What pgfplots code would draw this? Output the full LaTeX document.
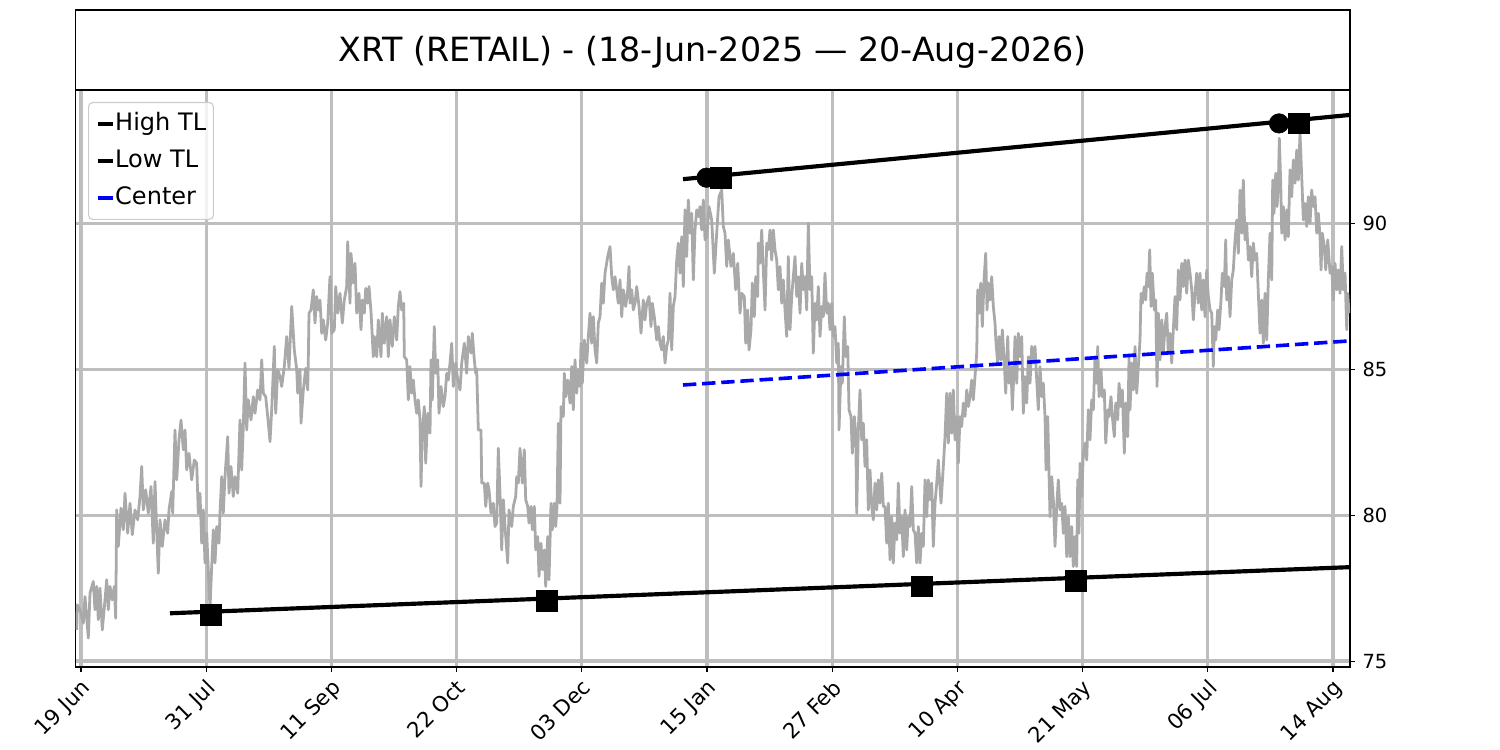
\documentclass[border=0pt]{standalone}
\usepackage{fontspec}
\setmainfont{DejaVu Sans}
\usepackage{pgfplots}
\pgfplotsset{compat=1.18}
\definecolor{pricec}{RGB}{169,169,169}
\definecolor{gridc}{RGB}{190,190,190}
\definecolor{legedge}{RGB}{204,204,204}
\begin{document}
\begin{tikzpicture}[x=1bp,y=1bp]
\useasboundingbox (0,0) rectangle (1080,540);
% title box
\begin{axis}[at={(54.36bp,475.2bp)}, anchor=south west, scale only axis,
  width=917.64bp, height=57.6bp, xmin=0, xmax=1, ymin=0, ymax=1,
  xtick=\empty, ytick=\empty, axis line style={line width=0.8bp}]
\node at (axis cs:0.5,0.47) {\fontsize{24bp}{28bp}\selectfont XRT (RETAIL) - (18-Jun-2025 — 20-Aug-2026)};
\end{axis}
% main axis
\begin{axis}[at={(54.36bp,59.76bp)}, anchor=south west, scale only axis,
  width=917.64bp, height=415.44bp,
  xmin=-5.5, xmax=1269, ymin=74.80, ymax=94.565,
  xtick={0,125.2,250.4,375.6,500.8,626,751.2,876.4,1001.6,1126.8,1252},
  xticklabels={19 Jun,31 Jul,11 Sep,22 Oct,03 Dec,15 Jan,27 Feb,10 Apr,21 May,06 Jul,14 Aug},
  ytick={75,80,85,90},
  xtick pos=bottom, ytick pos=right, yticklabel pos=right,
  tick align=outside, major tick length=3.5bp,
  tick style={black, line width=0.8bp},
  grid=major, major grid style={gridc, line width=2.4bp},
  axis line style={line width=0.8bp},
  yticklabel style={font=\fontsize{14bp}{16bp}\selectfont, xshift=2bp},
  xticklabel style={font=\fontsize{15.3bp}{18bp}\selectfont, rotate=45, anchor=north east, inner sep=2.5bp, xshift=-1bp},
  /pgf/number format/assume math mode=true,
  legend style={at={(0,1)}, anchor=north west, xshift=9bp, yshift=-8.6bp,
    draw=legedge, line width=0.8bp, rounded corners=3bp,
    fill=white, fill opacity=0.8, text opacity=1,
    font=\fontsize{17.3bp}{20bp}\selectfont,
    inner xsep=5bp, inner ysep=7.5bp, row sep=10.3bp,
    nodes={inner xsep=0.2bp, inner ysep=0bp, text height=12.6bp, text depth=3.6bp}},
  legend cell align=left,
  legend image code/.code={\draw[#1,solid,line width=3bp] (0bp,0bp) -- (11bp,0bp);},
]
\addplot[pricec, line width=2bp, line join=round, forget plot] coordinates {
(-4.3,76.07) (-3.7,76.93) (-1,76.76) (2.3,76.30) (4,77.21) (7.3,75.79) (9,77.33) (12.3,77.73) (14,76.76) (15.7,77.56) (17.3,76.42) (19,77.50) (21.3,76.07) (24,77.10) (25.7,77.79) (27.3,76.76) (29,77.56) (31.3,77.10) (33.3,77.56) (34.7,76.47) (35.7,80.18) (37.3,78.93) (40,80.24) (42.3,79.50) (44,80.75) (46.7,79.38) (49,80.41) (51.3,79.33) (54,80.18) (56.7,79.84) (59,80.64) (60.7,81.67) (62.3,80.18) (64.7,80.87) (67.3,80.07) (70,80.98) (72.3,79.04) (74,81.15) (75.7,79.50) (77.3,78.01) (79,79.84) (81.3,78.93) (84,79.84) (86.7,79.38) (88,80.18) (90.7,80.81) (91.7,80.07) (94,82.92) (95.7,81.21) (98,82.58) (100,83.26) (102.3,82.24) (104,82.92) (105.7,81.55) (108,82.12) (110.7,81.21) (113.3,81.89) (115.7,81.78) (117.3,80.07) (119,80.75) (120.7,79.04) (122.3,80.18) (124,78.36) (125.7,79.38) (127.3,78.13) (129,76.80) (130.7,78.24) (132.3,79.50) (134,78.36) (135.7,79.61) (138,79.04) (139,80.07) (140.7,81.32) (142.3,80.07) (144,81.32) (146.7,82.69) (148,80.75) (150,81.67) (152.3,80.64) (154,81.32) (156.7,80.75) (159,83.26) (160.7,81.55) (162.3,83.04) (164,85.21) (165.7,82.92) (167.3,83.95) (170,83.26) (172.3,84.06) (174,83.49) (176.7,84.29) (179,83.95) (180.7,85.32) (182.3,84.18) (184.7,84.06) (186.7,83.38) (189,82.52) (190.7,83.61) (193.3,85.78) (194.7,83.49) (196.7,84.98) (199,84.75) (200.7,84.41) (203.3,85.09) (205.7,86.12)
(208,85.03) (210.7,87.15) (213.3,85.66) (215.7,85.00) (216.7,84.18) (219,85.00) (220,83.15) (222.3,84.29) (224.7,85.03) (226.7,84.29) (227.3,85.32) (228,86.92) (230,87.03) (232.3,87.72) (234,86.58) (235.7,87.49) (237.3,87.03) (239,87.37) (240.7,86.23) (242.3,86.69) (244.7,86.00) (246.7,86.58) (249,88.17) (250.7,86.23) (253.3,86.35) (254.7,87.83) (256.7,86.92) (259,87.60) (261.3,86.58) (263.3,87.37) (265.7,87.83) (266.7,89.37) (269,87.26) (270,88.97) (272.3,87.95) (274,88.63) (275.7,86.92) (278,87.60) (280,86.35) (281.3,87.37) (283.3,86.92) (284.7,87.77) (286.7,87.26) (288,87.83) (290,86.97) (292.3,85.43) (293.3,86.12) (295.7,85.43) (297.3,86.69) (300,85.43) (301.3,86.92) (303.3,85.89) (305.7,86.80) (307.3,85.43) (309,86.69) (311.3,85.78) (313.3,86.80) (315.7,86.00) (317.3,87.15) (319,87.66) (320.7,87.03) (322.7,87.26) (323.3,85.43) (325.7,85.32) (327.3,83.95) (329,85.09) (330.7,84.18) (332.3,84.63) (334,83.95) (335.7,83.49) (337.3,83.95) (339,83.26) (340,80.98) (341.3,82.81) (343.3,83.72) (344.7,81.78) (346.7,83.49) (349,82.81) (350,85.32) (351.3,83.95) (353.3,86.46) (354.7,84.86) (356.7,85.32) (358,83.49) (360,84.41) (362.3,83.72) (364,84.06) (365.7,84.86) (367.3,84.63) (369,85.21) (370.7,85.89) (372.3,84.41) (374.7,85.21) (376.7,84.63) (379,84.29) (380.7,85.21) (383.3,85.89) (385.7,84.86) (387.3,86.12) (390,85.55) (391.3,86.23) (393.3,85.32) (394.7,84.86) (395.7,85.00) (397.3,82.92) (400,82.92) (400.7,81.10) (403.3,81.10) (404.7,80.30) (406.7,81.10) (408,80.87) (410,80.07) (412.3,80.41) (414,79.61)
(415.7,79.73) (417.3,82.29) (419,80.75) (420.7,78.81) (422.3,80.53) (424,79.61) (426.7,78.36) (428,80.18) (430.7,79.61) (432.3,80.30) (434.7,80.64) (435.7,81.32) (437.3,81.10) (439,82.29) (441.3,81.10) (443.3,82.24) (444.7,80.53) (446.7,80.30) (448,79.73) (450,80.30) (451.3,79.50) (453.3,80.30) (454.7,78.81) (456.7,79.27) (458,77.90) (460,79.04) (461.3,78.13) (463.3,78.81) (464.7,77.56) (466.7,79.27) (468,77.79) (470,80.41) (471.3,79.50) (473.3,80.41) (474.7,79.61) (476,80.30) (477.3,83.15) (479,80.41) (480,83.72) (482.3,83.38) (483.3,84.86) (484.7,84.06) (486.7,84.63) (489,83.84) (490.7,85.09) (492.3,83.61) (494,85.32) (495.7,84.18) (497.3,84.98) (499,84.41) (500,85.89) (501.3,84.52) (503.3,86.00) (505.7,85.21) (507.3,86.12) (509,86.92) (510.7,85.89) (512.3,86.80) (514,85.66) (515.7,85.21) (517.3,86.58) (519,86.80) (520.7,87.95) (522.3,87.26) (524,88.29) (526.7,88.86) (529,89.20) (530.7,88.17) (532.3,87.72) (534,88.17) (535.7,87.72) (537.3,87.26) (539,88.06) (540.7,86.80) (542.3,87.72) (544.7,87.15) (546.7,87.72) (548,88.52) (549,87.26) (550.7,87.72) (552.3,87.03) (554,87.26) (555.7,87.83) (558,87.15) (560,86.23) (562.3,87.37) (564,86.69) (565.7,87.26) (568,87.49) (570,86.46) (571.3,87.26) (573.3,86.80) (575.7,86.00) (577.3,86.46) (579,85.89) (580.7,85.66) (582.3,86.12) (584,85.21) (585.7,85.78) (587.3,86.00) (589,87.60) (590.7,85.66) (592.3,87.15) (594,87.49) (595.7,88.74) (597.3,89.32) (599,88.29) (600.7,89.54) (602.3,87.83) (604,90.46) (605.7,88.86) (607.3,90.80) (609,89.66) (610.7,90.34) (612.3,88.06) (614,89.77) (615.7,90.46) (617.3,90.23) (619,90.57) (620.7,89.77) (622.3,90.80) (624,89.43)
(625.7,89.54) (628,90.57) (630.7,90.11) (633.3,88.29) (635.7,89.66) (638,90.91) (640.7,91.14) (642.3,89.89) (644,89.66) (645.7,88.52) (647.3,89.43) (650,88.52) (652.3,88.97) (654.7,87.72) (656.7,88.63) (659,86.92) (660.7,87.60) (663.3,87.49) (664.7,85.89) (666.7,87.03) (668,85.66) (670,86.35) (671.3,87.95) (673.3,86.80) (674.7,88.17) (676.7,87.49) (677.3,89.32) (679,88.63) (680.7,89.77) (682.3,88.40) (684,87.03) (685.7,89.32) (687.3,89.09) (689,89.77) (690.7,88.74) (692.3,89.77) (694,89.09) (695.7,88.74) (697.3,87.72) (699,88.52) (700.7,87.26) (702.3,88.06) (704,87.03) (705.7,86.12) (707.3,88.86) (709,86.35) (710.7,87.49) (712.3,88.17) (714,88.86) (715.7,87.49) (717.3,88.17) (719,86.92) (720.7,88.63) (722.3,87.72) (724,88.17) (725.7,87.03) (727.3,90.00) (729,87.72) (730.7,88.17) (732.3,85.55) (734,87.26) (735.7,86.69) (737.3,87.83) (739,86.12) (740.7,87.15) (742.3,86.80) (744,88.29) (745.7,86.92) (747.3,87.26) (749,86.35) (750.7,87.26) (752.3,86.12) (754,86.46) (755.7,85.21) (757.3,85.89) (758,82.92) (760,85.09) (761.3,84.52) (763.3,86.80) (764.7,85.43) (766.7,85.78) (768,83.61) (770,83.38) (771.3,82.12) (773.3,83.38) (774.7,82.81) (775.7,80.07) (777.3,82.92) (779,84.29) (780.7,82.58) (782.3,83.15) (784,81.67) (785.7,82.58) (787.3,80.18) (789,81.55) (790.7,80.30) (792.3,79.84) (794,81.10) (795.7,80.18) (797.3,81.21) (799,80.41) (800.7,81.44) (802.3,80.30) (804,80.30) (805.7,79.04) (807.3,80.41) (809,78.47) (810.7,79.95) (812.3,78.36) (814,79.73) (815.7,79.16) (817.3,81.10) (819,79.38) (820.7,79.95) (822.3,78.58) (824,80.18) (825.7,78.81) (827.3,79.95) (829,79.61) (830.7,80.98) (832.3,79.50) (834,79.38) (835.7,78.36)
(837.3,79.61) (839,78.36) (840.7,79.38) (842.3,78.93) (844,81.21) (845.7,79.95) (847.3,81.21) (849,80.53) (850.7,81.10) (852.3,78.93) (854,80.41) (855.7,81.10) (857.3,81.89) (860,80.41) (862.3,81.67) (864,82.69) (865.7,84.18) (867.3,82.47) (869,84.18) (870.7,82.81) (872.3,84.29) (874,82.58) (875.7,83.38) (877.3,81.78) (879,83.38) (880.7,83.04) (882.3,83.84) (884,83.38) (885.7,84.29) (887.3,83.72) (889,84.06) (890.7,84.63) (892.3,83.95) (894,84.75) (895.7,85.55) (896.7,87.72) (898,86.92) (899.7,87.95) (901.3,86.46) (903,88.06) (904.7,88.97) (906,87.03) (907.3,87.95) (909,87.37) (910.7,88.17) (912.3,87.15) (914,86.58) (915,85.89) (916.7,85.21) (918,86.12) (920,85.32) (921.3,86.35) (923.3,85.21) (924.7,84.18) (926.7,86.12) (928,84.52) (930,85.09) (931.3,83.61) (932.7,84.75) (934,86.12) (935.7,84.52) (937.3,86.23) (939,85.43) (940.7,86.12) (942.3,83.49) (944,84.75) (945.7,83.84) (947.3,85.43) (949,84.52) (950.7,85.78) (952.3,85.21) (954,85.78) (955.7,84.63) (957.3,83.61) (959,85.09) (960.7,84.06) (962.3,84.52) (964,83.38) (965,81.55) (966.7,83.38) (968,81.44) (969,79.95) (970.7,81.32) (972.3,80.53) (974,78.93) (975.7,80.30) (977.3,81.21) (979,80.18) (980.7,80.41) (982.3,79.38) (984,80.30) (985.7,78.58) (987.3,79.95) (989,78.58) (990.7,79.61) (992.3,78.24) (994,79.27) (995.7,78.24) (996.7,81.21) (998,79.38) (999,81.78) (1000.7,80.64) (1002.3,82.12) (1004,82.47) (1005.7,81.89) (1007.3,83.61) (1009,82.58) (1010.7,83.95) (1012.3,83.61) (1014,85.43) (1015.7,84.52) (1016.7,85.78) (1018,84.06) (1020,84.98) (1021.3,84.06) (1023.3,84.29) (1024.7,82.47) (1026.7,83.61) (1028,83.38) (1030,84.06) (1031.3,83.38) (1033.3,82.69) (1034.7,83.84) (1036.7,83.27) (1038,84.52) (1040,83.72) (1041.3,84.29) (1043.3,82.12) (1044.7,83.84) (1046.7,82.69) (1048,85.43)
(1049,83.61) (1050.7,85.21) (1052.3,84.29) (1054,85.78) (1055.7,84.18) (1057.3,85.09) (1059,86.00) (1060,87.60) (1061.3,87.26) (1063.3,87.83) (1064.7,87.37) (1066,88.29) (1067.3,87.83) (1068.7,89.09) (1070,87.15) (1071.3,88.29) (1073.3,87.03) (1074.7,87.37) (1076,84.41) (1077.3,86.92) (1079,85.32) (1080.7,86.69) (1082.3,85.55) (1084,86.46) (1085.7,86.92) (1087.3,85.55) (1089,86.23) (1090.7,85.21) (1092.3,86.35) (1094,87.49) (1095.7,86.35) (1097.3,88.40) (1099,87.37) (1100.7,88.63) (1102.3,87.83) (1104,88.74) (1105.7,87.60) (1107.3,88.74) (1109,88.29) (1110.7,87.72) (1112.3,86.69) (1114,87.60) (1115.7,88.29) (1117.3,87.26) (1119,88.29) (1120.7,87.03) (1122.3,88.06) (1124,86.80) (1125.7,88.40) (1127.3,87.49) (1129,87.03) (1130.7,86.92) (1132.3,85.09) (1133.3,86.46) (1134.7,86.00) (1136.7,87.03) (1138,86.35) (1140,87.37) (1141.3,88.29) (1143.3,87.83) (1144.7,89.43) (1145.7,87.37) (1147.3,88.17) (1149,86.80) (1150.7,88.06) (1152.3,88.40) (1154,89.43) (1155.7,90.11) (1157.3,88.97) (1159,91.14) (1160.7,89.66) (1162.3,91.48) (1164,89.43) (1165.7,90.00) (1167.3,88.74) (1169,89.20) (1170.7,88.17) (1172.3,89.32) (1174,88.74) (1175.7,88.97) (1177.3,87.60) (1179,86.23) (1180.7,87.37) (1182.3,85.89) (1184,87.60) (1185.7,86.00) (1187.3,88.06) (1189,89.66) (1190.7,88.06) (1191.7,91.48) (1193,90.34) (1194.7,91.71) (1196,90.57) (1197.3,91.26) (1198.3,92.91) (1199.7,91.37) (1200.7,89.66) (1202.3,90.57) (1204,89.43) (1205.7,90.46) (1207.3,89.54) (1209,91.83) (1210.7,90.91) (1212.3,92.17) (1214,91.37) (1215.7,92.51) (1217.3,91.48) (1219,93.08) (1220.7,91.60) (1222.3,90.11) (1224,90.68) (1225.7,89.89) (1227.3,90.91) (1229,90.00) (1230.7,91.14) (1232.3,90.57) (1234,90.91) (1235.7,89.66) (1237.3,90.34) (1239,89.54) (1240,88.40) (1241.3,89.66) (1243.3,89.20) (1244.7,88.40) (1246.7,89.43) (1249,88.29) (1250.7,88.52) (1252.3,87.37) (1254,88.63) (1255.7,87.72) (1257.3,88.40) (1259,87.60) (1260.7,89.20) (1262.3,87.72) (1264,88.29) (1265.7,86.35) (1266.7,87.60) (1268,86.92)
};
\addplot[black, line width=3bp] coordinates {(602,91.51) (1269,93.71)};
\addlegendentry{High TL}
\addplot[black, line width=3bp] coordinates {(89,76.64) (1269,78.22)};
\addlegendentry{Low TL}
\addplot[blue, line width=2.6bp, dash pattern=on 9.6bp off 4.2bp] coordinates {(602,84.46) (1269,85.97)};
\addlegendentry{Center}
\addplot[only marks, mark=*, mark size=7bp, black, forget plot] coordinates {(625.5,91.56) (1198,93.42)};
\addplot[only marks, mark=square*, mark size=7.4bp, black, forget plot] coordinates {(640,91.55) (1218,93.42) (130,76.59) (466,77.07) (841,77.56) (995,77.75)};
\end{axis}
\end{tikzpicture}
\end{document}
